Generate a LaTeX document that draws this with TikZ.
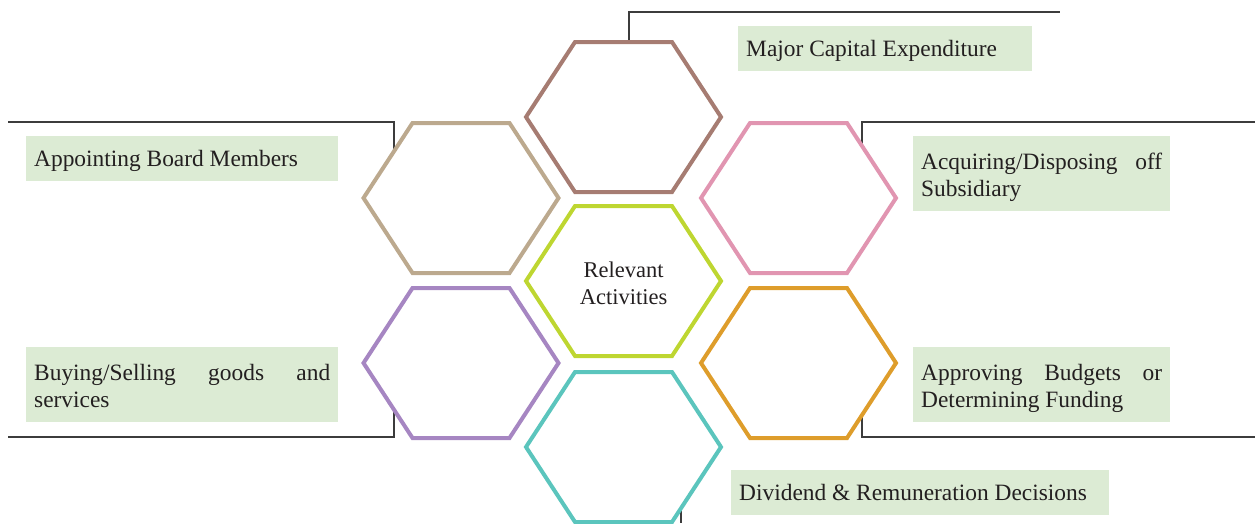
\documentclass[tikz,border=0pt]{standalone}
\usepackage{fontspec}
\setmainfont{Liberation Serif}
\usetikzlibrary{calc}
\definecolor{hxBrown}{RGB}{166,124,114}
\definecolor{hxTan}{RGB}{188,169,142}
\definecolor{hxPink}{RGB}{225,149,177}
\definecolor{hxLime}{RGB}{190,214,49}
\definecolor{hxPurple}{RGB}{166,134,194}
\definecolor{hxOrange}{RGB}{222,157,43}
\definecolor{hxTeal}{RGB}{91,197,189}
\definecolor{boxFill}{RGB}{220,235,212}
\definecolor{txt}{RGB}{35,31,32}
\definecolor{connCol}{RGB}{60,60,60}
\tikzset{
  pics/hexa/.style={code={
    \draw[line width=4pt, draw=#1, line join=miter]
      (-97.5,0) -- (-48.5,75) -- (48.5,75) -- (97.5,0) -- (48.5,-75) -- (-48.5,-75) -- cycle;
    \coordinate (-c) at (0,0);
  }},
  labelbox/.style={fill=boxFill, anchor=north west, inner xsep=8pt, inner ysep=0pt,
    align=justify, text=txt, font=\fontsize{23.4}{27}\selectfont},
  oneline/.style={labelbox, minimum height=45pt, text depth=0pt},
  twoline/.style={labelbox, minimum height=75pt, text depth=25pt},
  conn/.style={draw=connCol, line width=1.3pt},
}
\begin{document}
\begin{tikzpicture}[x=1pt,y=-1pt]
\useasboundingbox (0,0) rectangle (1260,523);
\hyphenpenalty=10000 \exhyphenpenalty=10000
% connector anchor points
\coordinate (tA) at (629,42);   \coordinate (tB) at (1060,12);
\coordinate (ulA) at (394,150); \coordinate (ulB) at (8,122);
\coordinate (urA) at (862,146); \coordinate (urB) at (1255,122);
\coordinate (llA) at (394,410); \coordinate (llB) at (8,437);
\coordinate (lrA) at (862,415); \coordinate (lrB) at (1255,437);
\coordinate (bA) at (681,508);  \coordinate (bB) at (681,523);
\draw[conn] (tA) |- (tB);
\draw[conn] (ulA) |- (ulB);
\draw[conn] (urA) |- (urB);
\draw[conn] (llA) |- (llB);
\draw[conn] (lrA) |- (lrB);
\draw[conn] (bA) -- (bB);
% hexagons
\pic (hT) at (623.5,117) {hexa=hxBrown};
\pic (hUL) at (461,198) {hexa=hxTan};
\pic (hUR) at (798.5,198) {hexa=hxPink};
\pic (hC) at (623.5,281) {hexa=hxLime};
\pic (hLL) at (461,363) {hexa=hxPurple};
\pic (hLR) at (798.5,363) {hexa=hxOrange};
\pic (hB) at (623.5,447) {hexa=hxTeal};
\node[align=center, text=txt, font=\fontsize{22.5}{27}\selectfont] (center) at (623.5,283) {Relevant\\Activities};
% label boxes
\node[oneline, text width=278pt] (major) at (738,26) {Major Capital Expenditure};
\node[oneline, text width=296pt] (appoint) at (26,136) {Appointing Board Members};
\node[twoline, text width=241pt] (acquire) at (913,136) {Acquiring/Disposing off Subsidiary};
\node[twoline, text width=296pt] (buy) at (26,347) {Buying/Selling goods and services};
\node[twoline, text width=241pt] (approve) at (913,347) {Approving Budgets or Determining Funding};
\node[oneline, text width=362pt] (divid) at (731,470) {Dividend \& Remuneration Decisions};
\end{tikzpicture}
\end{document}
